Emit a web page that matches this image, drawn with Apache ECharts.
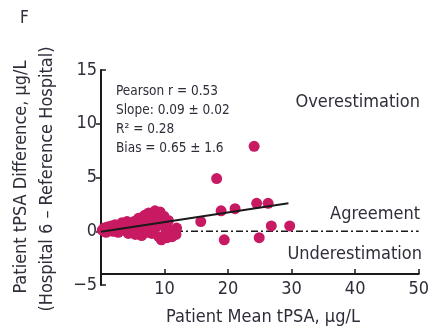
<!DOCTYPE html>
<html><head><meta charset="utf-8">
<script src="https://cdn.jsdelivr.net/npm/echarts@6/dist/echarts.min.js"></script>
<style>html,body{margin:0;padding:0;background:#fff}#c{width:432px;height:328px}</style>
</head><body><div id="c"></div>
<script>
var pointX = [0.2,0.5,0.8,1.0,1.3,1.6,1.9,2.2,2.4,2.7,3.0,3.3,3.5,3.8,4.1,4.3,4.6,4.9,5.2,5.4,5.7,5.9,6.2,6.4,6.5,6.7,6.9,7.1,7.3,7.5,7.6,7.8,8.0,8.2,8.5,8.7,8.8,8.9,9.1,9.3,9.5,9.6,9.7,9.9,10.2,10.4,10.6,10.9,11.2,11.8,11.9,
  15.7,18.2,18.9,19.4,21.1,24.1,24.5,24.9,26.3,26.8,29.7];
var pointY = [0.1,0.3,-0.1,0.4,0.2,0.5,0.0,0.6,0.2,-0.1,0.5,0.8,0.1,0.4,0.9,-0.2,0.5,0.2,0.9,-0.3,0.6,1.2,0.3,-0.4,1.3,1.0,1.5,0.5,-0.1,1.7,1.3,0.8,-0.2,1.6,1.9,0.4,1.6,1.1,-0.5,1.8,-0.8,1.2,0.7,1.4,0.2,-0.6,1.0,0.1,-0.5,-0.3,0.3,
  0.9,4.9,1.9,-0.8,2.1,7.9,2.6,-0.6,2.6,0.5,0.5];
var fitX = [0, 29.5];
var fitY = [-0.05, 2.6];
var agreeX = [0, 50];
var agreeY = [0, 0];
var xTicks = [10, 20, 30, 40, 50];
var yTicks = [-5, 0, 5, 10, 15];
var statsLines = ['Pearson r = 0.53', 'Slope: 0.09 \u00b1 0.02', 'R\u00b2 = 0.28', 'Bias = 0.65 \u00b1 1.6'];

var FONT = '"Liberation Sans Narrow","DejaVu Sans Condensed",sans-serif';
var TXT = '#2e2e3a';
var chart = echarts.init(document.getElementById('c'), null, {renderer: 'canvas'});
function zip(a, b) { return a.map(function (v, i) { return [v, b[i]]; }); }

var gridL = 101, gridR = 10, gridT = 70, gridB = 43;
chart.setOption({
  animation: false,
  grid: {left: gridL, right: gridR, top: gridT, bottom: gridB},
  xAxis: {
    type: 'value', min: 0, max: 50, interval: 10, offset: -11,
    axisLine: {show: true, onZero: false, lineStyle: {color: '#1a1a1a', width: 2}},
    axisTick: {show: true, inside: true, length: 5, lineStyle: {color: '#1a1a1a', width: 1.5}, customValues: xTicks},
    axisLabel: {show: true, color: TXT, fontFamily: FONT, fontSize: 18, margin: 6, customValues: xTicks},
    splitLine: {show: false}
  },
  yAxis: [{
    type: 'value', min: -5, max: 15, interval: 5,
    axisLine: {show: true, onZero: false, lineStyle: {color: '#1a1a1a', width: 2}},
    axisTick: {show: true, inside: false, length: 5, lineStyle: {color: '#1a1a1a', width: 1.5}, customValues: [0, 5, 10]},
    axisLabel: {color: TXT, fontFamily: FONT, fontSize: 18, margin: 4,
      formatter: function (v) { return v < 0 ? '\u2212' + Math.abs(v) : String(v); }},
    splitLine: {show: false}
  }, {
    type: 'value', min: -5, max: 15, interval: 5, position: 'left',
    axisLine: {show: false, onZero: false},
    axisTick: {show: true, inside: true, length: 5, lineStyle: {color: '#1a1a1a', width: 1.5}, customValues: [-5, 15]},
    axisLabel: {show: false},
    splitLine: {show: false}
  }],
  graphic: [
    {type: 'text', left: 20, top: 10, style: {text: 'F', font: '17px ' + FONT, fill: TXT}},
    {type: 'text', x: 21, y: 177, rotation: Math.PI / 2,
      style: {text: 'Patient tPSA Difference, \u03bcg/L', font: '18px ' + FONT, fill: TXT, textAlign: 'center', textVerticalAlign: 'middle'}},
    {type: 'text', x: 47, y: 179, rotation: Math.PI / 2,
      style: {text: '(Hospital 6 \u2013 Reference Hospital)', font: '18px ' + FONT, fill: TXT, textAlign: 'center', textVerticalAlign: 'middle'}},
    {type: 'text', x: 263, y: 317,
      style: {text: 'Patient Mean tPSA, \u03bcg/L', font: '18px ' + FONT, fill: TXT, textAlign: 'center', textVerticalAlign: 'middle'}},
    {type: 'text', x: 420, y: 102, style: {text: 'Overestimation', font: '18px ' + FONT, fill: TXT, textAlign: 'right', textVerticalAlign: 'middle'}},
    {type: 'text', x: 420, y: 214, style: {text: 'Agreement', font: '18px ' + FONT, fill: TXT, textAlign: 'right', textVerticalAlign: 'middle'}},
    {type: 'text', x: 422, y: 254, style: {text: 'Underestimation', font: '18px ' + FONT, fill: TXT, textAlign: 'right', textVerticalAlign: 'middle'}},
    {type: 'text', x: 116, y: 91, style: {text: statsLines[0], font: '13.5px ' + FONT, fill: TXT, textVerticalAlign: 'middle'}},
    {type: 'text', x: 116, y: 110, style: {text: statsLines[1], font: '13.5px ' + FONT, fill: TXT, textVerticalAlign: 'middle'}},
    {type: 'text', x: 116, y: 129, style: {text: statsLines[2], font: '13.5px ' + FONT, fill: TXT, textVerticalAlign: 'middle'}},
    {type: 'text', x: 116, y: 148, style: {text: statsLines[3], font: '13.5px ' + FONT, fill: TXT, textVerticalAlign: 'middle'}}
  ],
  series: [
    {type: 'line', data: zip(agreeX, agreeY), symbol: 'none', z: 1,
      lineStyle: {color: '#1a1a1a', width: 1.5, type: [7, 3, 2, 3]}},
    {type: 'scatter', data: zip(pointX, pointY), symbolSize: 11, z: 2,
      itemStyle: {color: '#c81a62', opacity: 1}},
    {type: 'line', data: zip(fitX, fitY), symbol: 'none', z: 3,
      lineStyle: {color: '#1a1a1a', width: 2}}
  ]
});
</script></body></html>
